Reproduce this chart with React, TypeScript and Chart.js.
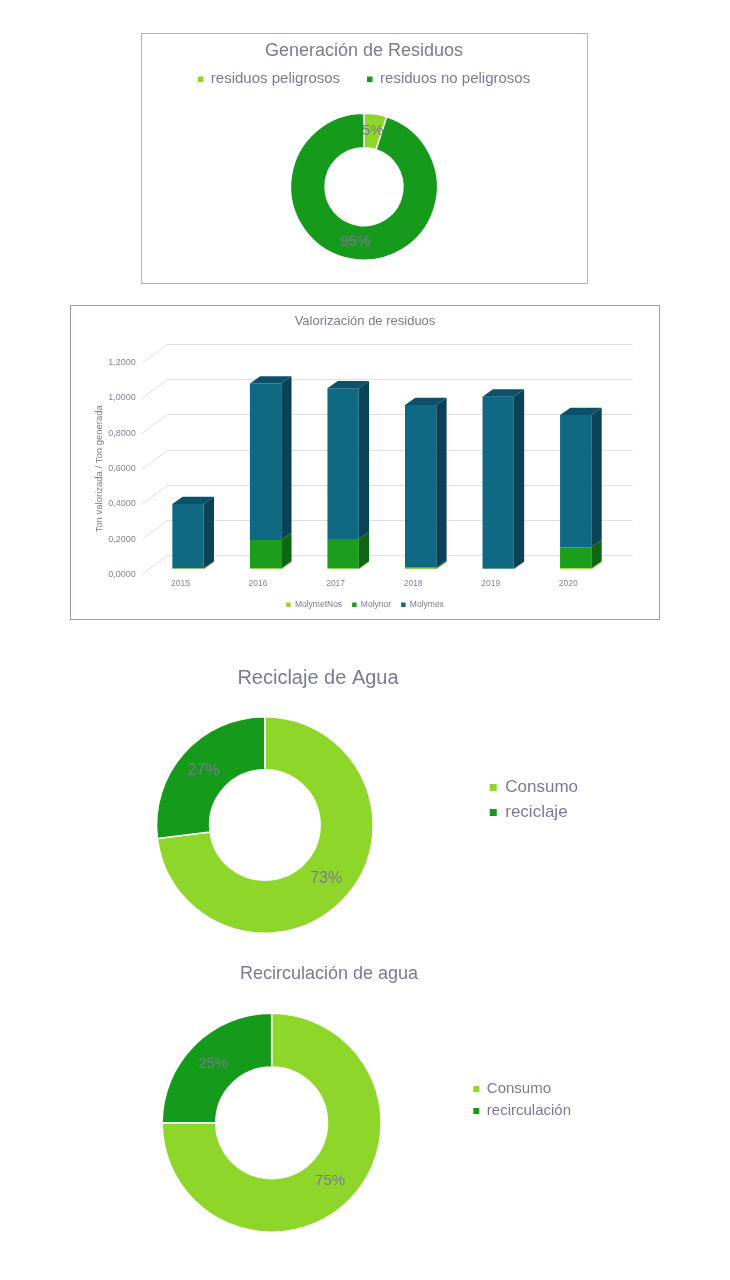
import React, { useEffect, useRef } from 'react';
import { Chart, registerables } from 'chart.js';

Chart.register(...registerables);

const FONT = '"Liberation Sans", Arial, sans-serif';
const TEXT = '#7a7a96';
const TEXT2 = '#85859e';
const LIGHT_GREEN = '#8fd62a';
const DARK_GREEN = '#169a1b';

// Chart 1: Generación de Residuos
const residuosLabels = ['residuos peligrosos', 'residuos no peligrosos'];
const residuosValues = [5, 95];

// Chart 2: Valorización de residuos
const years = ['2015', '2016', '2017', '2018', '2019', '2020'];
const molymetNos = [0.004, 0.005, 0.005, 0.004, 0.003, 0.006];
const molynor = [0.0, 0.161, 0.167, 0.006, 0.0, 0.119];
const molymex = [0.366, 0.887, 0.855, 0.922, 0.976, 0.75];
const yMin = 0;
const yMax = 1.2;
const yStep = 0.2;

// Chart 3: Reciclaje de Agua
const reciclajeLabels = ['Consumo', 'reciclaje'];
const reciclajeValues = [73, 27];

// Chart 4: Recirculación de agua
const recirculacionLabels = ['Consumo', 'recirculación'];
const recirculacionValues = [75, 25];

const pctLabels = (fontSize: number) => ({
  id: 'pctLabels',
  afterDatasetsDraw(chart: any) {
    const ctx = chart.ctx;
    const vals = chart.data.datasets[0].data as number[];
    const total = vals.reduce((a, b) => a + b, 0);
    const meta = chart.getDatasetMeta(0);
    ctx.save();
    ctx.font = `${fontSize}px ${FONT}`;
    ctx.fillStyle = TEXT;
    ctx.textAlign = 'center';
    ctx.textBaseline = 'middle';
    meta.data.forEach((arc: any, i: number) => {
      const p = arc.getProps(['x', 'y', 'startAngle', 'endAngle', 'innerRadius', 'outerRadius'], true);
      const a = (p.startAngle + p.endAngle) / 2;
      const r = (p.innerRadius + p.outerRadius) / 2;
      ctx.fillText(Math.round((vals[i] / total) * 100) + '%', p.x + Math.cos(a) * r, p.y + Math.sin(a) * r);
    });
    ctx.restore();
  },
});

const legendNoBorder = (chart: any) =>
  (Chart as any).overrides.doughnut.plugins.legend.labels
    .generateLabels(chart)
    .map((l: any) => ({ ...l, lineWidth: 0, strokeStyle: l.fillStyle, fontColor: TEXT }));

const DX = 10.3;
const DY = 7.3;
const sideColors = ['#6aa81e', '#0f6512', '#0a4357'];
const topColors = ['#7fc226', '#13801a', '#0c5169'];

const grid3d = {
  id: 'grid3d',
  beforeDatasetsDraw(chart: any) {
    const ctx = chart.ctx;
    const ys = chart.scales.y;
    const area = chart.chartArea;
    ctx.save();
    ctx.strokeStyle = '#dfdfe4';
    ctx.lineWidth = 1;
    ys.ticks.forEach((t: any) => {
      const yf = Math.round(ys.getPixelForValue(t.value) + 5) + 0.5;
      const yb = Math.round(yf - 19.5) + 0.5;
      ctx.beginPath();
      ctx.moveTo(area.left - 7.5, yf);
      ctx.lineTo(area.left + 18, yb);
      ctx.lineTo(area.right + 18, yb);
      ctx.stroke();
    });
    ctx.restore();
  },
};

const bars3d = {
  id: 'bars3d',
  afterDatasetsDraw(chart: any) {
    const ctx = chart.ctx;
    const n = chart.data.datasets.length;
    ctx.save();
    for (let di = 0; di < n; di++) {
      const meta = chart.getDatasetMeta(di);
      meta.data.forEach((bar: any) => {
        const { x, y, base, width } = bar.getProps(['x', 'y', 'base', 'width'], true);
        const left = x - width / 2;
        const right = x + width / 2;
        if (Math.abs(base - y) > 0.05) {
          ctx.fillStyle = sideColors[di];
          ctx.beginPath();
          ctx.moveTo(right, y);
          ctx.lineTo(right + DX, y - DY);
          ctx.lineTo(right + DX, base - DY);
          ctx.lineTo(right, base);
          ctx.closePath();
          ctx.fill();
        }
        if (di === n - 1) {
          ctx.fillStyle = topColors[di];
          ctx.beginPath();
          ctx.moveTo(left, y);
          ctx.lineTo(left + DX, y - DY);
          ctx.lineTo(right + DX, y - DY);
          ctx.lineTo(right, y);
          ctx.closePath();
          ctx.fill();
        }
      });
    }
    ctx.restore();
  },
};

function ChartBox({ left, top, width, height, config }: any) {
  const ref = useRef<HTMLCanvasElement>(null);
  useEffect(() => {
    const chart = new Chart(ref.current as HTMLCanvasElement, config);
    return () => chart.destroy();
  }, []);
  return (
    <div style={{ position: 'absolute', left, top, width, height }}>
      <canvas ref={ref} />
    </div>
  );
}

const config1: any = {
  type: 'doughnut',
  data: {
    labels: residuosLabels,
    datasets: [
      { data: residuosValues, backgroundColor: [LIGHT_GREEN, DARK_GREEN], borderColor: '#ffffff', borderWidth: 1.5 },
    ],
  },
  options: {
    animation: false,
    responsive: true,
    maintainAspectRatio: false,
    radius: 73.5,
    cutout: '53%',
    layout: { padding: { bottom: 5.4 } },
    plugins: {
      title: {
        display: true,
        text: 'Generación de Residuos',
        color: TEXT,
        font: { family: FONT, size: 18, weight: 'normal' },
        padding: { top: 5.9, bottom: -16.7 },
      },
      legend: {
        position: 'top',
        labels: {
          boxWidth: 5.5,
          boxHeight: 5.5,
          padding: 27,
          color: TEXT,
          font: { family: FONT, size: 15 },
          generateLabels: legendNoBorder,
        },
      },
      tooltip: { enabled: false },
    },
  },
  plugins: [pctLabels(15)],
};

const config2: any = {
  type: 'bar',
  data: {
    labels: years,
    datasets: [
      { label: 'MolymetNos', data: molymetNos, backgroundColor: '#92d82b' },
      { label: 'Molynor', data: molynor, backgroundColor: '#1a9e1c' },
      { label: 'Molymex', data: molymex, backgroundColor: '#0f6983' },
    ],
  },
  options: {
    animation: false,
    responsive: true,
    maintainAspectRatio: false,
    layout: { padding: 0 },
    datasets: { bar: { barPercentage: 0.404, categoryPercentage: 1 } },
    plugins: {
      title: {
        display: true,
        text: 'Valorización de residuos',
        color: TEXT,
        font: { family: FONT, size: 13, weight: 'normal' },
        padding: { top: 7.2, bottom: 28.9 },
      },
      legend: {
        position: 'bottom',
        labels: {
          boxWidth: 4.5,
          boxHeight: 4.5,
          padding: 10,
          color: TEXT,
          font: { family: FONT, size: 8.5 },
        },
      },
      tooltip: { enabled: false },
    },
    scales: {
      x: {
        stacked: true,
        grid: { display: false, drawTicks: false },
        border: { display: false },
        ticks: { padding: 9, labelOffset: -7.5, color: TEXT2, font: { family: FONT, size: 8.5 } },
        afterFit: (s: any) => {
          s.height = 21.2;
        },
      },
      y: {
        stacked: true,
        min: yMin,
        max: yMax,
        grid: { display: false, drawTicks: false },
        border: { display: false },
        ticks: {
          stepSize: yStep,
          padding: 13.5,
          labelOffset: 5,
          color: TEXT2,
          font: { family: FONT, size: 9 },
          callback: (v: any) => Number(v).toFixed(4).replace('.', ','),
        },
        title: {
          display: true,
          text: 'Ton valorizada / Ton generada    ',
          color: TEXT,
          font: { family: FONT, size: 9.5 },
          padding: { top: 22.6, bottom: 0 },
        },
        afterFit: (s: any) => {
          s.width = 78.25;
        },
      },
      yR: {
        position: 'right',
        display: true,
        grid: { display: false, drawTicks: false },
        border: { display: false },
        ticks: { display: false },
        afterFit: (s: any) => {
          s.width = 44.5;
        },
      },
    },
  },
  plugins: [grid3d, bars3d],
};

const donutRight = (
  labels: string[],
  values: number[],
  title: string,
  titleSize: number,
  titlePad: any,
  legendSize: number,
  legendBox: number,
  legendPad: number,
  radius: number,
  labelSize: number,
  padLeft: number
): any => ({
  type: 'doughnut',
  data: {
    labels,
    datasets: [
      { data: values, backgroundColor: [LIGHT_GREEN, DARK_GREEN], borderColor: '#ffffff', borderWidth: 1.5 },
    ],
  },
  options: {
    animation: false,
    responsive: true,
    maintainAspectRatio: false,
    radius,
    cutout: '51%',
    layout: { padding: { left: padLeft } },
    plugins: {
      title: {
        display: true,
        text: title,
        color: TEXT,
        font: { family: FONT, size: titleSize, weight: 'normal' },
        padding: titlePad,
      },
      legend: {
        position: 'right',
        labels: {
          boxWidth: legendBox,
          boxHeight: legendBox,
          padding: legendPad,
          color: TEXT,
          font: { family: FONT, size: legendSize },
          generateLabels: legendNoBorder,
        },
      },
      tooltip: { enabled: false },
    },
  },
  plugins: [pctLabels(labelSize)],
});

const config3 = donutRight(
  reciclajeLabels,
  reciclajeValues,
  'Reciclaje de Agua',
  20,
  { top: 11.3, bottom: 14.7 },
  17,
  7,
  8,
  108.3,
  16,
  3
);

const config4 = donutRight(
  recirculacionLabels,
  recirculacionValues,
  'Recirculación de agua',
  18,
  { top: 8.2, bottom: 15.8 },
  15,
  6,
  7,
  109.5,
  15,
  0
);

export default function App() {
  return (
    <div style={{ position: 'absolute', left: 0, top: 0, width: 730, height: 1280, background: '#ffffff' }}>
      <div
        style={{
          position: 'absolute',
          left: 141,
          top: 33,
          width: 447,
          height: 251,
          border: '1px solid #b2b2ba',
          boxSizing: 'border-box',
        }}
      />
      <ChartBox left={142} top={34} width={444} height={248} config={config1} />
      <div
        style={{
          position: 'absolute',
          left: 70,
          top: 305,
          width: 590,
          height: 315,
          border: '1px solid #9c9cae',
          boxSizing: 'border-box',
        }}
      />
      <ChartBox left={71} top={306} width={588} height={313} config={config2} />
      <ChartBox left={45} top={655} width={543} height={290} config={config3} />
      <ChartBox left={77} top={955} width={504} height={290} config={config4} />
    </div>
  );
}
